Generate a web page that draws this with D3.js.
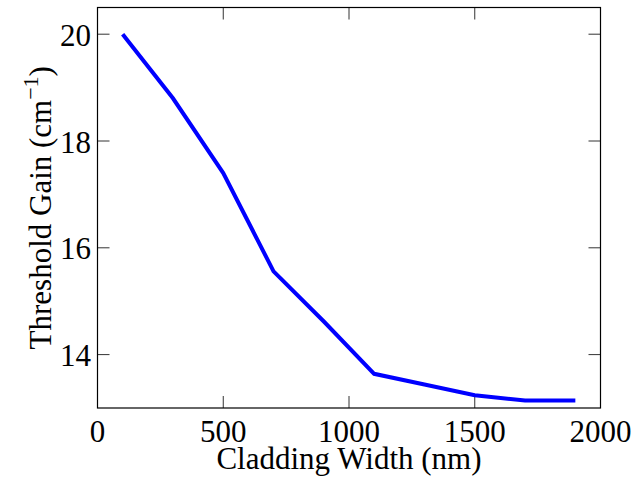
<!DOCTYPE html>
<html>
<head>
<meta charset="utf-8">
<script src="https://cdn.jsdelivr.net/npm/d3@7"></script>
<style>
  body { margin: 0; background: #fff; }
  svg { display: block; }
  text { font-family: "Liberation Serif", "Times New Roman", serif; fill: #000; }
</style>
</head>
<body>
<div id="wrapper"></div>
<script>
// cladding width (nm) vs threshold gain (cm^-1)
const claddingWidth = [100, 300, 500, 700, 900, 1100, 1300, 1500, 1700, 1900];
const thresholdGain = [20.0, 18.8, 17.4, 15.56, 14.62, 13.64, 13.44, 13.24, 13.14, 13.14];
const xTicks = [0, 500, 1000, 1500, 2000];
const yTicks = [14, 16, 18, 20];

function drawChart() {
  let dimensions = {
    width: 635,
    height: 483,
    margin: { top: 7.5, left: 97.5, bottom: 75, right: 34.5 }
  };
  dimensions.boundedWidth = dimensions.width - dimensions.margin.left - dimensions.margin.right;
  dimensions.boundedHeight = dimensions.height - dimensions.margin.top - dimensions.margin.bottom;

  const svg = d3.select("#wrapper").append("svg")
    .attr("width", dimensions.width)
    .attr("height", dimensions.height);

  const g = svg.append("g")
    .attr("transform", `translate(${dimensions.margin.left},${dimensions.margin.top})`);

  const xScale = d3.scaleLinear()
    .domain([0, 2000])
    .range([0, dimensions.boundedWidth]);

  const yScale = d3.scaleLinear()
    .domain([13, 20.5])
    .range([dimensions.boundedHeight, 0]);

  const tickLen = 12;
  const tickColor = "#333";
  const fontSize = "31px";

  // ticks inside on all four sides (matlab style)
  xTicks.forEach(t => {
    const x = xScale(t);
    g.append("line").attr("x1", x).attr("x2", x)
      .attr("y1", dimensions.boundedHeight).attr("y2", dimensions.boundedHeight - tickLen)
      .attr("stroke", tickColor).attr("stroke-width", 1);
    g.append("line").attr("x1", x).attr("x2", x)
      .attr("y1", 0).attr("y2", tickLen)
      .attr("stroke", tickColor).attr("stroke-width", 1);
  });
  yTicks.forEach(t => {
    const y = yScale(t);
    g.append("line").attr("x1", 0).attr("x2", tickLen)
      .attr("y1", y).attr("y2", y)
      .attr("stroke", tickColor).attr("stroke-width", 1);
    g.append("line").attr("x1", dimensions.boundedWidth).attr("x2", dimensions.boundedWidth - tickLen)
      .attr("y1", y).attr("y2", y)
      .attr("stroke", tickColor).attr("stroke-width", 1);
  });

  g.selectAll(".xlab").data(xTicks).enter().append("text")
    .attr("x", d => xScale(d))
    .attr("y", dimensions.boundedHeight + 33.5)
    .attr("text-anchor", "middle")
    .style("font-size", fontSize)
    .text(d => d);

  g.selectAll(".ylab").data(yTicks).enter().append("text")
    .attr("x", -6.5)
    .attr("y", d => yScale(d) + 11.5)
    .attr("text-anchor", "end")
    .style("font-size", fontSize)
    .text(d => d);

  // box
  g.append("rect")
    .attr("width", dimensions.boundedWidth)
    .attr("height", dimensions.boundedHeight)
    .attr("fill", "none")
    .attr("stroke", "#000")
    .attr("stroke-width", 1.2);

  const line = d3.line()
    .x((d, i) => xScale(claddingWidth[i]))
    .y(d => yScale(d));

  g.append("path")
    .datum(thresholdGain)
    .attr("d", line)
    .attr("fill", "none")
    .attr("stroke", "#0000ff")
    .attr("stroke-width", 4);

  // axis titles
  g.append("text")
    .attr("x", dimensions.boundedWidth / 2)
    .attr("y", dimensions.boundedHeight + 61)
    .attr("text-anchor", "middle")
    .style("font-size", fontSize)
    .text("Cladding Width (nm)");

  const yTitle = g.append("text")
    .attr("transform", `translate(-47,${dimensions.boundedHeight / 2}) rotate(-90)`)
    .attr("text-anchor", "middle")
    .style("font-size", fontSize);
  yTitle.append("tspan").text("Threshold Gain (cm");
  yTitle.append("tspan").attr("dy", -13).style("font-size", "22px").text("\u22121");
  yTitle.append("tspan").attr("dy", 13).text(")");
}

drawChart();
</script>
</body>
</html>
